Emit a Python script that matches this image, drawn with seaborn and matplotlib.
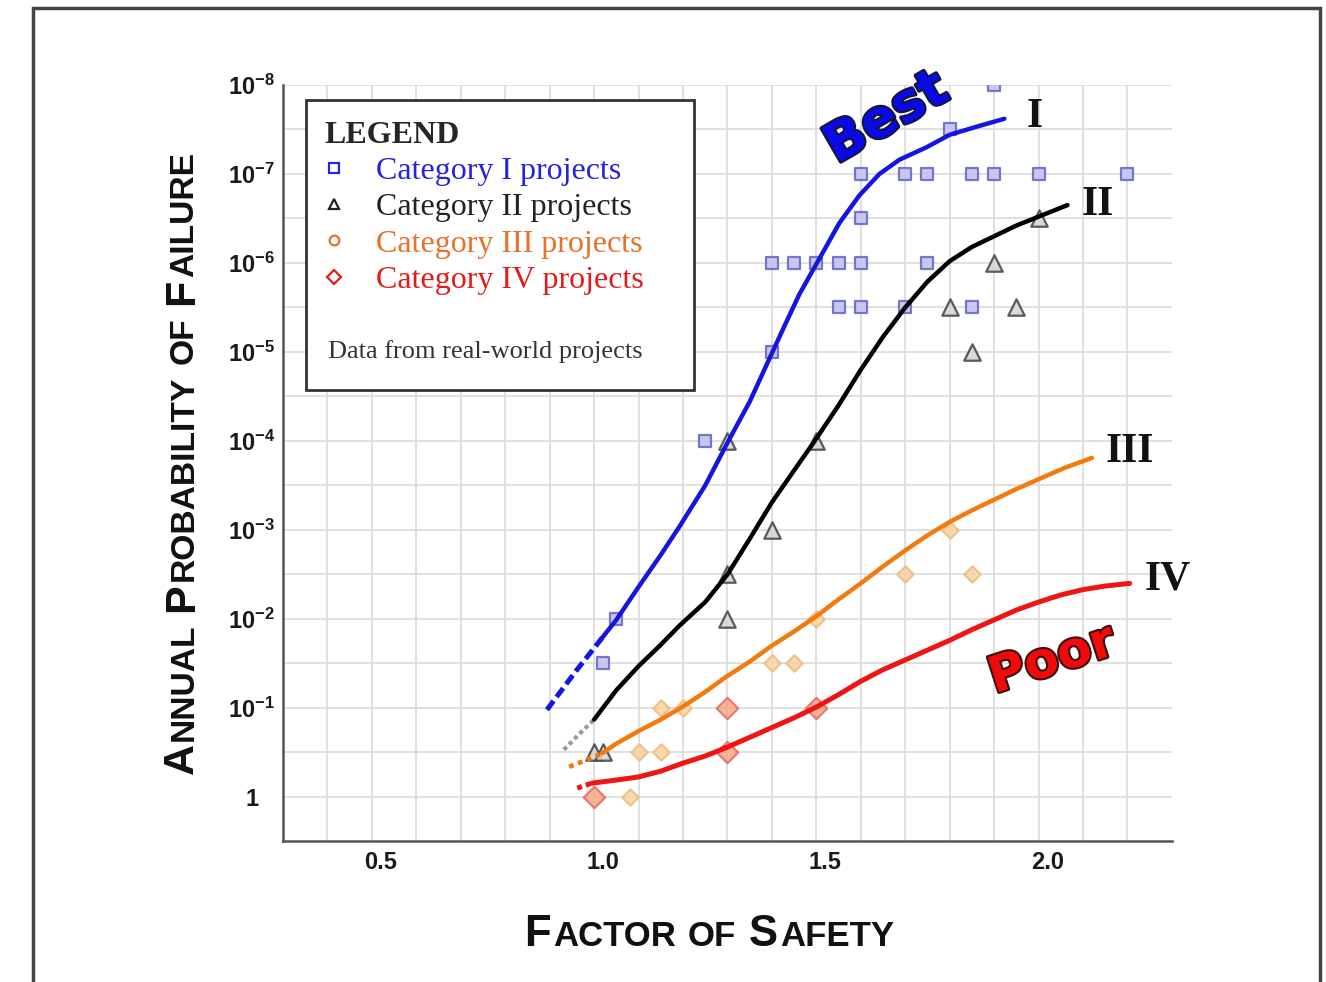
import numpy as np
import pandas as pd
import seaborn as sns
import matplotlib.pyplot as plt
import matplotlib.patheffects as pe
from matplotlib.lines import Line2D
from matplotlib.patches import Rectangle
from matplotlib.ticker import FixedLocator, NullFormatter
from matplotlib.transforms import IdentityTransform, ScaledTranslation

# ---- curves: factor of safety vs log10(annual probability of failure)
# the *_ext lists are the dotted / dashed starts of each curve
cat1_ext_fs = [0.894, 0.96, 1.02]
cat1_ext_logp = [-0.98, -1.42, -1.80]
cat1_fs = [1.02, 1.05, 1.10, 1.15, 1.191, 1.25, 1.30, 1.35, 1.394, 1.43, 1.462, 1.507,
           1.552, 1.597, 1.642, 1.687, 1.748, 1.80, 1.86, 1.923]
cat1_logp = [-1.80, -1.99, -2.36, -2.72, -3.03, -3.50, -3.98, -4.44, -4.92, -5.31, -5.65, -6.05,
             -6.45, -6.76, -7.00, -7.16, -7.30, -7.44, -7.53, -7.62]

cat2_ext_fs = [0.932, 0.965, 1.0]
cat2_ext_logp = [-0.53, -0.70, -0.87]
cat2_fs = [1.0, 1.05, 1.10, 1.15, 1.191, 1.25, 1.30, 1.35, 1.40, 1.45, 1.495, 1.55, 1.60,
           1.65, 1.70, 1.75, 1.80, 1.85, 1.90, 1.95, 2.0, 2.065]
cat2_logp = [-0.87, -1.20, -1.47, -1.71, -1.92, -2.19, -2.50, -2.90, -3.31, -3.67, -3.99, -4.40, -4.80,
             -5.17, -5.50, -5.79, -6.02, -6.18, -6.30, -6.42, -6.52, -6.65]

cat3_ext_fs = [0.944, 0.98, 1.018]
cat3_ext_logp = [-0.34, -0.41, -0.49]
cat3_fs = [1.018, 1.05, 1.10, 1.15, 1.198, 1.25, 1.297, 1.35, 1.40, 1.45, 1.50, 1.55, 1.60,
           1.65, 1.70, 1.75, 1.80, 1.85, 1.90, 1.95, 2.00, 2.06, 2.12]
cat3_logp = [-0.49, -0.60, -0.74, -0.87, -1.01, -1.18, -1.35, -1.52, -1.70, -1.86, -2.03, -2.22, -2.40,
             -2.59, -2.77, -2.94, -3.09, -3.22, -3.34, -3.46, -3.57, -3.70, -3.81]

cat4_ext_fs = [0.962, 0.995]
cat4_ext_logp = [-0.10, -0.155]
cat4_fs = [0.995, 1.05, 1.10, 1.15, 1.20, 1.25, 1.30, 1.35, 1.40, 1.45, 1.50, 1.55, 1.60,
           1.65, 1.70, 1.75, 1.80, 1.85, 1.90, 1.95, 2.00, 2.05, 2.10, 2.15, 2.205]
cat4_logp = [-0.155, -0.19, -0.225, -0.29, -0.38, -0.46, -0.56, -0.67, -0.78, -0.89, -1.01, -1.15, -1.30,
             -1.43, -1.54, -1.65, -1.76, -1.88, -1.99, -2.10, -2.19, -2.27, -2.33, -2.37, -2.40]

# ---- project data points
cat1_pts_fs = [1.90, 1.80, 1.60, 1.70, 1.75, 1.85, 1.90, 2.00, 2.20, 1.60, 1.40, 1.45, 1.50, 1.55,
               1.60, 1.75, 1.55, 1.60, 1.70, 1.85, 1.40, 1.25, 1.05, 1.02]
cat1_pts_logp = [-8, -7.5, -7, -7, -7, -7, -7, -7, -7, -6.5, -6, -6, -6, -6,
                 -6, -6, -5.5, -5.5, -5.5, -5.5, -5, -4, -2, -1.5]
cat2_pts_fs = [2.00, 1.90, 1.80, 1.95, 1.85, 1.30, 1.50, 1.40, 1.30, 1.30, 1.00, 1.02]
cat2_pts_logp = [-6.5, -6, -5.5, -5.5, -5, -4, -4, -3, -2.5, -2, -0.5, -0.5]
cat3_pts_fs = [1.80, 1.70, 1.85, 1.50, 1.40, 1.45, 1.15, 1.20, 1.10, 1.15, 1.08]
cat3_pts_logp = [-3, -2.5, -2.5, -2, -1.5, -1.5, -1, -1, -0.5, -0.5, 0]
cat4_pts_fs = [1.00, 1.30, 1.30, 1.50]
cat4_pts_logp = [0, -1, -0.5, -1]

legend_labels = ['Category I projects', 'Category II projects',
                 'Category III projects', 'Category IV projects']
legend_colors = ['#2323e0', '#222222', '#e8702a', '#e31b1b']
legend_markers = ['s', '^', 'o', 'D']

ytick_vals = [1e-8, 1e-7, 1e-6, 1e-5, 1e-4, 1e-3, 1e-2, 1e-1, 1]
ytick_labels = [r'$\mathbf{10^{-8}}$', r'$\mathbf{10^{-7}}$', r'$\mathbf{10^{-6}}$', r'$\mathbf{10^{-5}}$',
                r'$\mathbf{10^{-4}}$', r'$\mathbf{10^{-3}}$', r'$\mathbf{10^{-2}}$', r'$\mathbf{10^{-1}}$', '1']
xtick_vals = [0.5, 1.0, 1.5, 2.0]
xtick_labels = ['0.5', '1.0', '1.5', '2.0']

sns.set_style('white')
plt.rcParams['font.family'] = ['Liberation Sans', 'DejaVu Sans']
plt.rcParams['mathtext.fontset'] = 'custom'
plt.rcParams['mathtext.rm'] = 'Liberation Sans'
plt.rcParams['mathtext.bf'] = 'Liberation Sans:bold'

fig = plt.figure(figsize=(13.26, 9.82), dpi=100)
ax = fig.add_axes([0.2134, 0.1431, 0.6704, 0.7704])


def curve(fs, logp):
    return pd.DataFrame({'fs': fs, 'p': 10.0 ** np.array(logp)})


# scatter of projects
pts = [
    (cat1_pts_fs, cat1_pts_logp, 's', 85, '#c3c3ef', '#6a6ac6', 0.9),
    (cat2_pts_fs, cat2_pts_logp, '^', 140, '#d6d6d6', '#4a4a4a', 0.9),
    (cat3_pts_fs, cat3_pts_logp, 'D', 70, '#f6d4a2', '#eebb7e', 0.85),
    (cat4_pts_fs, cat4_pts_logp, 'D', 120, '#f5a57c', '#e46262', 0.8),
]
for fs, lp, m, s, fc, ec, a in pts:
    sns.scatterplot(data=curve(fs, lp), x='fs', y='p', marker=m, s=s, color=fc,
                    edgecolor=ec, linewidth=1.6, alpha=a, ax=ax, zorder=2, legend=False)

# extrapolated starts
ext = [
    (cat1_ext_fs, cat1_ext_logp, '#1515e0', (0, (2.2, 1.0)), 3.6),
    (cat2_ext_fs, cat2_ext_logp, '#9a9a9a', (0, (1.0, 0.8)), 3.0),
    (cat3_ext_fs, cat3_ext_logp, '#f07a12', (0, (1.0, 1.0)), 3.4),
    (cat4_ext_fs, cat4_ext_logp, '#e81818', (0, (1.0, 0.8)), 3.6),
]
for fs, lp, c, ls, lw in ext:
    sns.lineplot(data=curve(fs, lp), x='fs', y='p', color=c, linestyle=ls, lw=lw,
                 estimator=None, sort=False, ax=ax, zorder=3)

# fitted curves
lines = [
    (cat1_fs, cat1_logp, '#1515e0', 3.2),
    (cat2_fs, cat2_logp, '#000000', 3.2),
    (cat3_fs, cat3_logp, '#f47a10', 3.2),
    (cat4_fs, cat4_logp, '#ee1515', 3.6),
]
for fs, lp, c, lw in lines:
    sns.lineplot(data=curve(fs, lp), x='fs', y='p', color=c, lw=lw, estimator=None,
                 sort=False, ax=ax, zorder=3, solid_capstyle='round', solid_joinstyle='round')

# axes
ax.set_yscale('log')
ax.set_xlim(0.3, 2.3)
ax.set_ylim(10 ** 0.5, 1e-8)
ax.set_xticks(xtick_vals, labels=xtick_labels)
ax.set_yticks(ytick_vals, labels=ytick_labels)
ax.xaxis.set_minor_locator(FixedLocator(np.round(np.arange(0.4, 2.25, 0.1), 2)))
ax.yaxis.set_minor_locator(FixedLocator([10 ** (-k - 0.5) for k in range(0, 8)]))
ax.yaxis.set_minor_formatter(NullFormatter())
ax.set_xlabel('')
ax.set_ylabel('')
ax.set_axisbelow(True)
ax.grid(which='both', color='#dadada', lw=1.2)
for s in ['top', 'right']:
    ax.spines[s].set_visible(False)
for s in ['left', 'bottom']:
    ax.spines[s].set_color('#555555')
    ax.spines[s].set_linewidth(1.8)
ax.tick_params(which='major', direction='in', length=7, width=1.5, color='#555555',
               labelsize=17, labelcolor='#1a1a1a')
ax.tick_params(which='minor', length=0)
ax.tick_params(axis='y', pad=22.5)
ax.tick_params(axis='x', pad=7)
for lab in ax.get_yticklabels():
    lab.set_ha('center')
    lab.set_fontweight('bold')
shift = ScaledTranslation(9 / 100, 0, fig.dpi_scale_trans)
for lab in ax.get_xticklabels():
    lab.set_fontweight('bold')
    lab.set_transform(lab.get_transform() + shift)

# curve names and Best / Poor
for name, fs, lp in [('I', 1.991, -7.64), ('II', 2.133, -6.65), ('III', 2.205, -3.88), ('IV', 2.29, -2.44)]:
    ax.text(fs, 10 ** lp, name, family='Liberation Serif', fontweight='bold', fontsize=30,
            ha='center', va='center', color='#111111', clip_on=False)
ax.text(1.658, 10 ** -7.63, 'Best', family='DejaVu Sans', fontweight='heavy', fontsize=38,
        rotation=30, ha='center', va='center', color='#0a0ae8',
        path_effects=[pe.withStroke(linewidth=3, foreground='#15153a')])
ax.text(2.031, 10 ** -1.54, 'Poor', family='DejaVu Sans', fontweight='heavy', fontsize=36,
        rotation=18, ha='center', va='center', color='#f00a0a',
        path_effects=[pe.withStroke(linewidth=3, foreground='#3a1010')])

# legend box
ax.add_patch(Rectangle((0.0259, 0.5968), 0.4364, 0.3833, transform=ax.transAxes,
                       fc='white', ec='#333333', lw=2, zorder=4))
handles = [Line2D([], [], ls='', marker=m, mfc='none', mec=c, mew=1.6, ms=7)
           for m, c in zip(legend_markers, legend_colors)]
leg = ax.legend(handles, legend_labels, loc='upper left', bbox_to_anchor=(0.047, 0.953),
                borderaxespad=0, borderpad=0, frameon=False, title='LEGEND',
                title_fontproperties={'family': 'Liberation Serif', 'weight': 'bold', 'size': 23},
                prop={'family': 'Liberation Serif', 'size': 23}, labelcolor=legend_colors,
                handlelength=0.6, handletextpad=1.0, labelspacing=0.22, alignment='left')
leg.set_zorder(6)
ax.text(0.0506, 0.639, 'Data from real-world projects', transform=ax.transAxes,
        family='Liberation Serif', fontsize=19, color='#333333', va='baseline', zorder=6)

# small-caps axis titles
def caps_title(words, center, base, vertical=False, big=31.5, small=25):
    r = fig.canvas.get_renderer()
    placed = []
    total = 0
    gap = 0.3 * small * 100 / 72
    for wi, word in enumerate(words):
        for pi, (txt, is_big) in enumerate(word):
            t = fig.text(0, 0, txt, fontsize=big if is_big else small, fontweight='bold',
                         color='#111111', rotation=90 if vertical else 0, rotation_mode='anchor',
                         ha='left', va='baseline', transform=IdentityTransform())
            bb = t.get_window_extent(r)
            ln = bb.height if vertical else bb.width
            placed.append((t, total))
            total += ln + 2
        if wi < len(words) - 1:
            total += gap
    start = center - total / 2
    for t, off in placed:
        t.set_position((base, start + off) if vertical else (start + off, base))


caps_title([[('F', True), ('ACTOR', False)], [('OF', False)], [('S', True), ('AFETY', False)]],
           center=710, base=36)
caps_title([[('A', True), ('NNUAL', False)], [('P', True), ('ROBABILITY', False)],
            [('OF', False)], [('F', True), ('AILURE', False)]],
           center=520, base=193, vertical=True, big=31, small=24.2)

# outer frame
fig.add_artist(Rectangle((33 / 1326, -0.05), (1320 - 33) / 1326, 0.05 + (982 - 8) / 982,
                         transform=fig.transFigure, fill=False, ec='#444444', lw=2.5))

fig.savefig('out.png', dpi=100)
